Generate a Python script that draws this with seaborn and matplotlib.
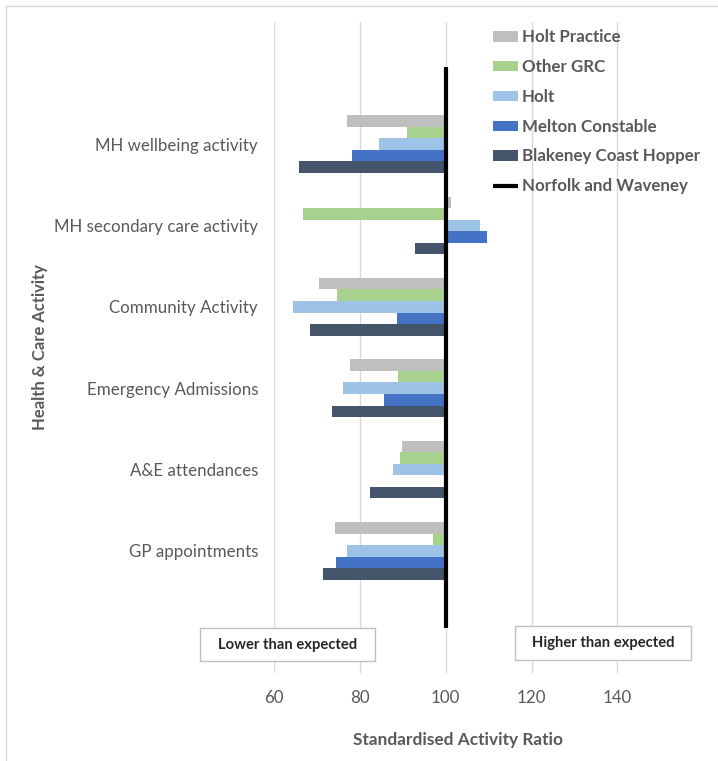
import numpy as np
import pandas as pd
import matplotlib
matplotlib.use("Agg")
import matplotlib.pyplot as plt
from matplotlib.patches import Rectangle
from matplotlib.ticker import FuncFormatter, FixedLocator
import seaborn as sns

# ---------------- data ----------------
categories = ["MH wellbeing activity", "MH secondary care activity", "Community Activity",
              "Emergency Admissions", "A&E attendances", "GP appointments"]
series_names = ["Holt Practice", "Other GRC", "Holt", "Melton Constable", "Blakeney Coast Hopper"]
holt_practice = [77.1, 101.3, 70.4, 77.7, 89.8, 74.3]
other_grc = [90.9, 66.8, 74.6, 89.0, 89.4, 97.0]
holt = [84.5, 108.1, 64.5, 76.0, 87.7, 77.0]
melton_constable = [78.1, 109.6, 88.6, 85.6, np.nan, 74.4]
blakeney_coast_hopper = [65.9, 92.8, 68.3, 73.5, 82.3, 71.5]
reference_name = "Norfolk and Waveney"
reference_value = 100
x_ticks = [60, 80, 100, 120, 140]
colors = ["#BFBFBF", "#A9D18E", "#9DC3E6", "#4472C4", "#44546A"]

series_values = [holt_practice, other_grc, holt, melton_constable, blakeney_coast_hopper]
rows = []
for name, vals in zip(series_names, series_values):
    for cat, v in zip(categories, vals):
        rows.append({"Category": cat, "Series": name, "Value": v,
                     "Deviation": v - reference_value})
df = pd.DataFrame(rows)

# ---------------- style ----------------
sns.set_theme(style="white")
plt.rcParams["font.family"] = ["Lato", "DejaVu Sans"]
txt_gray = "#595959"

W, H = 718, 761
fig = plt.figure(figsize=(W / 100, H / 100), dpi=100)
ax_left, ax_right = 274, 660.3
ax_top, ax_bot = 22, 673
ax = fig.add_axes([ax_left / W, 1 - ax_bot / H, (ax_right - ax_left) / W, (ax_bot - ax_top) / H])

sns.barplot(data=df, y="Category", x="Deviation", hue="Series", order=categories,
            hue_order=series_names, palette=colors, orient="h", width=0.71,
            linewidth=0, saturation=1, ax=ax, legend=True, errorbar=None)

ax.set_xlim(60 - reference_value, 150 - reference_value)
ax.set_ylim(len(categories) + 0.5, -1.5)
ax.xaxis.set_major_locator(FixedLocator([t - reference_value for t in x_ticks]))
ax.xaxis.set_major_formatter(FuncFormatter(lambda x, p: f"{x + reference_value:.0f}"))
ax.grid(axis="x", color="#D9D9D9", linewidth=1)
ax.grid(axis="y", visible=False)
ax.set_axisbelow(True)
for s in ax.spines.values():
    s.set_visible(False)
ax.set_yticks(range(len(categories)))
ax.set_yticklabels(categories)
ax.tick_params(axis="y", length=0, pad=11.5, labelsize=12.2, labelcolor=txt_gray)
ax.tick_params(axis="x", length=0, pad=12, labelsize=12.2, labelcolor=txt_gray)
ax.set_xlabel("")
ax.set_ylabel("")

# reference line
ax.axvline(reference_value - reference_value, ymin=0.069, ymax=0.931, color="black",
           linewidth=3, label=reference_name, solid_capstyle="butt")

handles, labels = ax.get_legend_handles_labels()
ax.get_legend().remove()
leg = fig.legend(handles, labels, loc="upper left",
                 bbox_to_anchor=(493 / W, 1 - 29.5 / H), frameon=False,
                 prop={"weight": "bold", "size": 12.2}, labelcolor=txt_gray,
                 handlelength=1.5, handleheight=0.55, handletextpad=0.2,
                 labelspacing=0.81, borderpad=0, borderaxespad=0)

# axis titles
fig.text(458 / W, 1 - 740 / H, "Standardised Activity Ratio", ha="center", va="center",
         fontsize=12.4, fontweight="bold", color=txt_gray)
fig.text(40 / W, 1 - 347 / H, "Health & Care Activity", ha="center", va="center",
         rotation=90, fontsize=12, fontweight="bold", color=txt_gray)

# annotation boxes
for (x0, y0, x1, y1, label) in [(200, 628, 375, 661, "Lower than expected"),
                                (515, 626, 691, 660, "Higher than expected")]:
    fig.patches.append(Rectangle((x0 / W, 1 - y1 / H), (x1 - x0) / W, (y1 - y0) / H,
                                 transform=fig.transFigure, facecolor="white",
                                 edgecolor="#BFBFBF", linewidth=1, zorder=5))
    fig.text((x0 + x1) / 2 / W, 1 - (y0 + y1) / 2 / H, label, ha="center", va="center",
             fontsize=10.6, fontweight="bold", color="#262626", zorder=6)

# chart border (left & top visible)
fig.patches.append(Rectangle((6 / W, -0.05), 1.2, 1 - 6 / H + 0.05, transform=fig.transFigure,
                             facecolor="none", edgecolor="#D9D9D9", linewidth=1))

fig.savefig("out.png", dpi=100)
